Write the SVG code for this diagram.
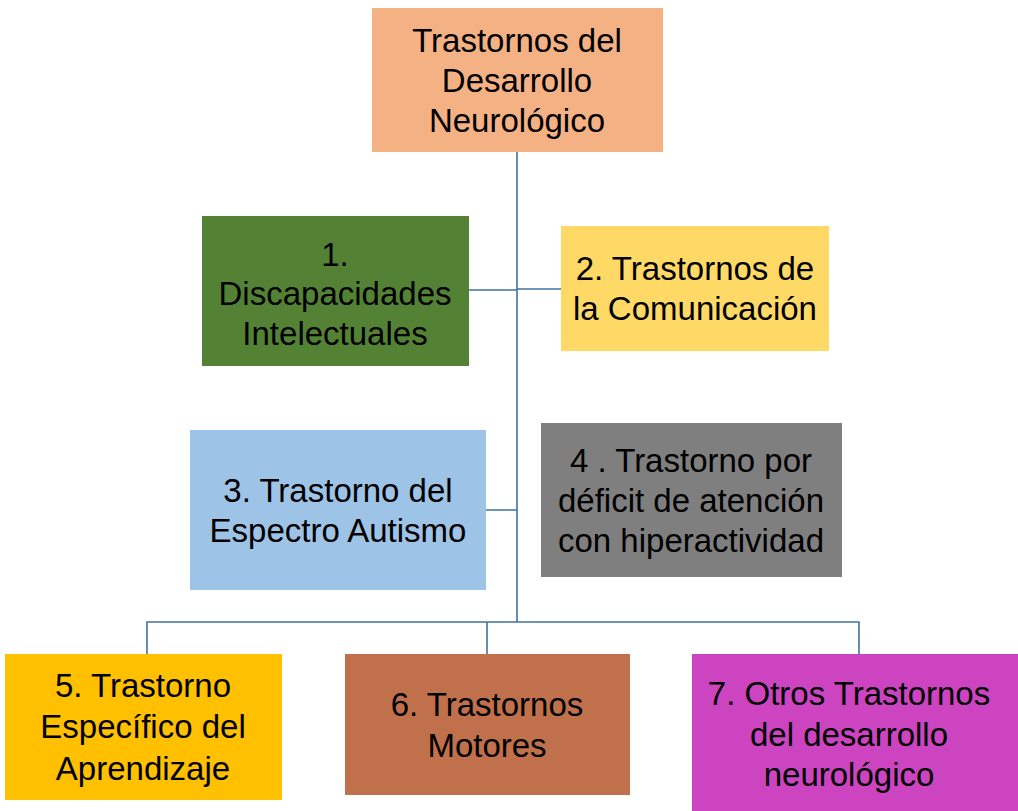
<svg xmlns="http://www.w3.org/2000/svg" width="1018" height="811" viewBox="0 0 1018 811">
<style>
.t{font-family:"Liberation Sans",Arial,sans-serif;font-size:33px;fill:#000;text-anchor:middle}
.c{stroke:#41719C;stroke-width:1.6;fill:none}
</style>
<rect width="1018" height="811" fill="#fff"/>
<g id="connectors">
<path class="c" d="M517 152V622M469 290H517M517 289H561M486 510H517M147 654V622H859V654M487 622V654"/>
</g>
<g id="root"><rect x="372" y="8" width="291" height="144" fill="#F4B183"/>
<text class="t"><tspan x="517" y="52">Trastornos del</tspan><tspan x="517" y="92">Desarrollo</tspan><tspan x="517" y="132">Neurológico</tspan></text></g>
<g id="n1"><rect x="202" y="216" width="267" height="150" fill="#548235"/>
<text class="t"><tspan x="335" y="266">1.</tspan><tspan x="335" y="305">Discapacidades</tspan><tspan x="335" y="345">Intelectuales</tspan></text></g>
<g id="n2"><rect x="561" y="226" width="268" height="125" fill="#FFD966"/>
<text class="t"><tspan x="695" y="280">2. Trastornos de</tspan><tspan x="695" y="320">la Comunicación</tspan></text></g>
<g id="n3"><rect x="190" y="430" width="296" height="160" fill="#9DC3E6"/>
<text class="t"><tspan x="338" y="502">3. Trastorno del</tspan><tspan x="338" y="542">Espectro Autismo</tspan></text></g>
<g id="n4"><rect x="541" y="423" width="301" height="154" fill="#7F7F7F"/>
<text class="t"><tspan x="691" y="472">4 . Trastorno por</tspan><tspan x="691" y="512">déficit de atención</tspan><tspan x="691" y="552">con hiperactividad</tspan></text></g>
<g id="n5"><rect x="5" y="654" width="277" height="146" fill="#FFC000"/>
<text class="t"><tspan x="143" y="697">5. Trastorno</tspan><tspan x="143" y="738">Específico del</tspan><tspan x="143" y="780">Aprendizaje</tspan></text></g>
<g id="n6"><rect x="345" y="654" width="285" height="141" fill="#C0704A"/>
<text class="t"><tspan x="487" y="716">6. Trastornos</tspan><tspan x="487" y="757">Motores</tspan></text></g>
<g id="n7"><rect x="692" y="654" width="330" height="160" fill="#CC44C0"/>
<text class="t"><tspan x="849" y="705">7. Otros Trastornos</tspan><tspan x="849" y="746">del desarrollo</tspan><tspan x="849" y="786">neurológico</tspan></text></g>
</svg>
